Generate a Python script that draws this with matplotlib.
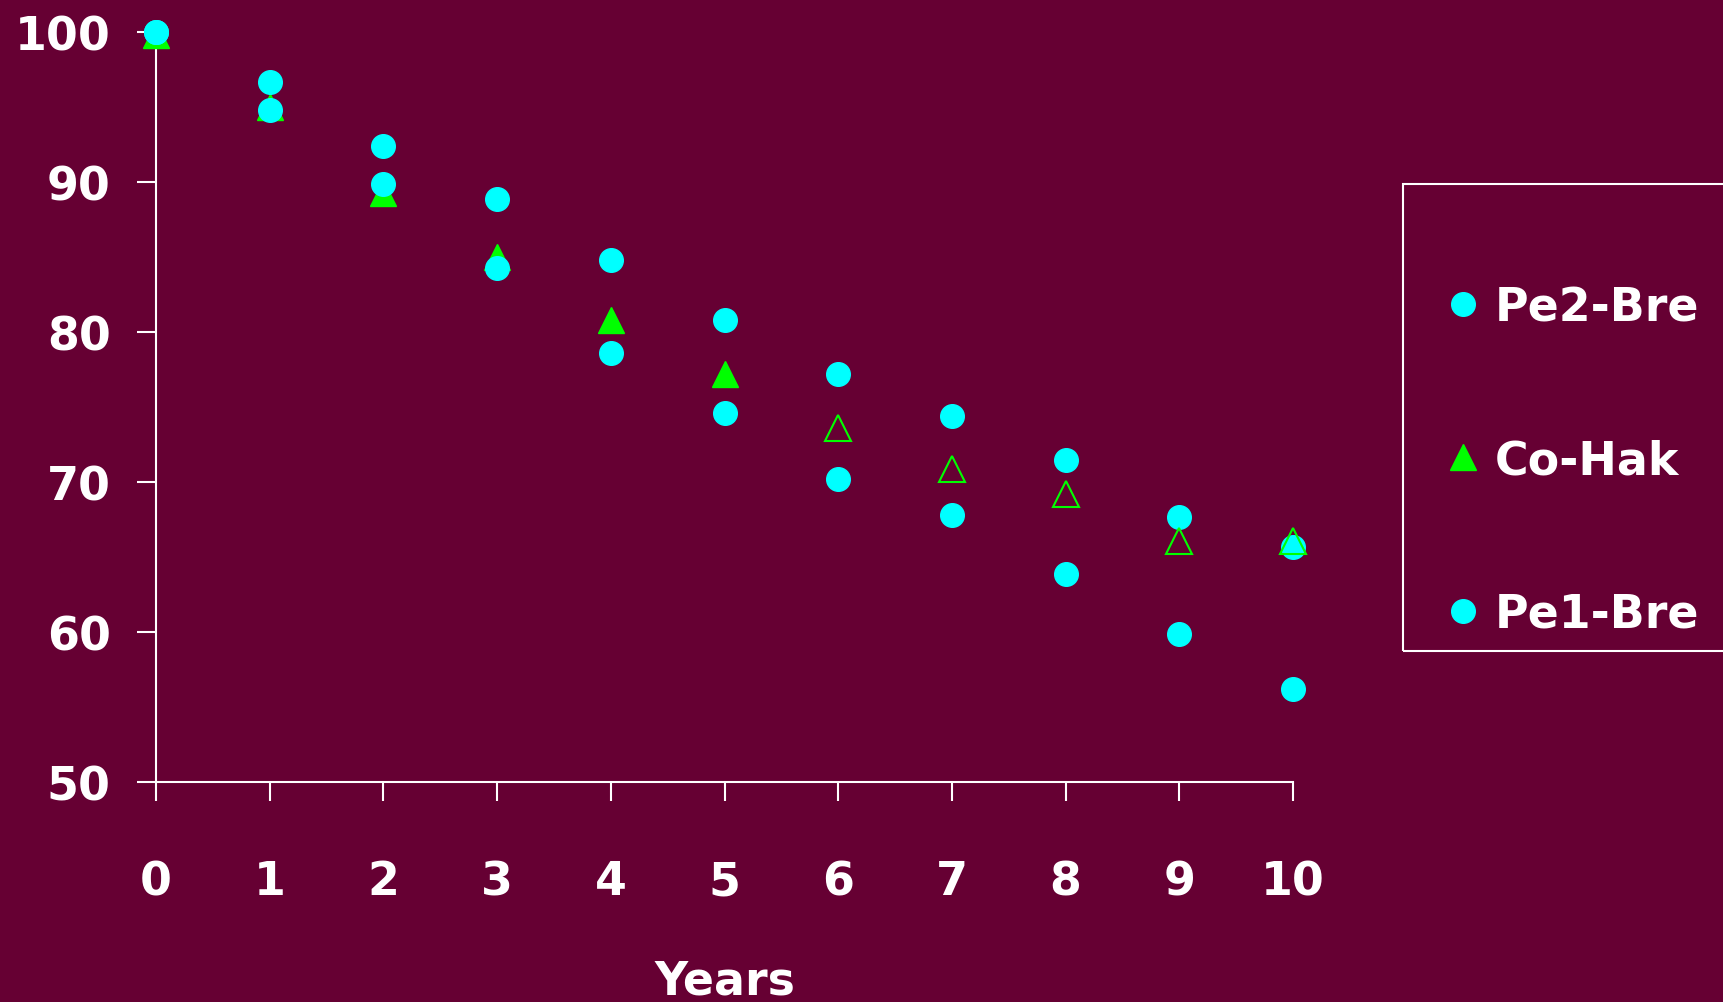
import matplotlib.pyplot as plt
import numpy as np
from matplotlib.patches import Rectangle
from matplotlib.lines import Line2D

plt.rcParams['font.family'] = ['DejaVu Sans']
plt.rcParams['font.weight'] = 'bold'

bg = '#660033'
cyan = '#00ffff'
green = '#00ff00'

years = [0, 1, 2, 3, 4, 5, 6, 7, 8, 9, 10]
pe2_bre = [100, 96.7, 92.4, 88.9, 84.8, 80.8, 77.2, 74.4, 71.5, 67.7, 65.7]
pe1_bre = [100, 94.8, 89.9, 84.3, 78.6, 74.6, 70.2, 67.8, 63.9, 59.9, 56.2]
co_hak = [99.8, 95.0, 89.3, 85.0, 80.8, 77.2, 73.6, 70.9, 69.2, 66.1, 66.1]
co_hak_filled = [True, True, True, True, True, True, False, False, False, False, False]

fig = plt.figure(figsize=(17.24, 10.03), dpi=100, facecolor=bg)
ax = fig.add_axes([0.0905, 0.2193, 0.6595, 0.7478])
ax.set_facecolor(bg)

fx = [x for x, f in zip(years, co_hak_filled) if f]
fy = [y for y, f in zip(co_hak, co_hak_filled) if f]
hx = [x for x, f in zip(years, co_hak_filled) if not f]
hy = [y for y, f in zip(co_hak, co_hak_filled) if not f]

ax.plot(fx, fy, ls='none', marker='^', ms=19, color=green, mec=green, clip_on=False, zorder=3)
ax.plot(years, pe2_bre, ls='none', marker='o', ms=17, color=cyan, mec=cyan, clip_on=False, zorder=4)
ax.plot(years, pe1_bre, ls='none', marker='o', ms=17, color=cyan, mec=cyan, clip_on=False, zorder=4)
ax.plot(hx, hy, ls='none', marker='^', ms=19, mfc='none', mec=green, mew=1.5, clip_on=False, zorder=5)

ax.set_xlim(0, 10)
ax.set_ylim(50, 100)
ax.set_xticks(years)
ax.set_yticks([50, 60, 70, 80, 90, 100])
for s in ['top', 'right']:
    ax.spines[s].set_visible(False)
for s in ['left', 'bottom']:
    ax.spines[s].set_color('white')
    ax.spines[s].set_linewidth(1.5)
ax.tick_params(axis='both', colors='white', width=1.5, length=13.5, direction='out', labelsize=33)
ax.tick_params(axis='x', pad=42)
ax.tick_params(axis='y', pad=19)
ax.set_xlabel('Years', color='white', fontsize=33, fontweight='bold', labelpad=39)

# legend box, cut at the right edge like the original
fig.patches.append(Rectangle((1403 / 1724, 1 - 652 / 1003), 0.3, (652 - 185) / 1003,
                             transform=fig.transFigure, fill=False, ec='white', lw=1.5))
handles = [
    Line2D([], [], ls='none', marker='o', ms=17, color=cyan),
    Line2D([], [], ls='none', marker='^', ms=19, color=green),
    Line2D([], [], ls='none', marker='o', ms=17, color=cyan),
]
fig.legend(handles, ['Pe2-Bre', 'Co-Hak', 'Pe1-Bre'], loc='center left',
           bbox_to_anchor=(1449 / 1724, 1 - 462 / 1003), frameon=False,
           fontsize=33, labelcolor='white', handlelength=0.6, handletextpad=0.4,
           labelspacing=2.36, borderpad=0, borderaxespad=0)

plt.savefig('out.png', dpi=100, facecolor=bg)
